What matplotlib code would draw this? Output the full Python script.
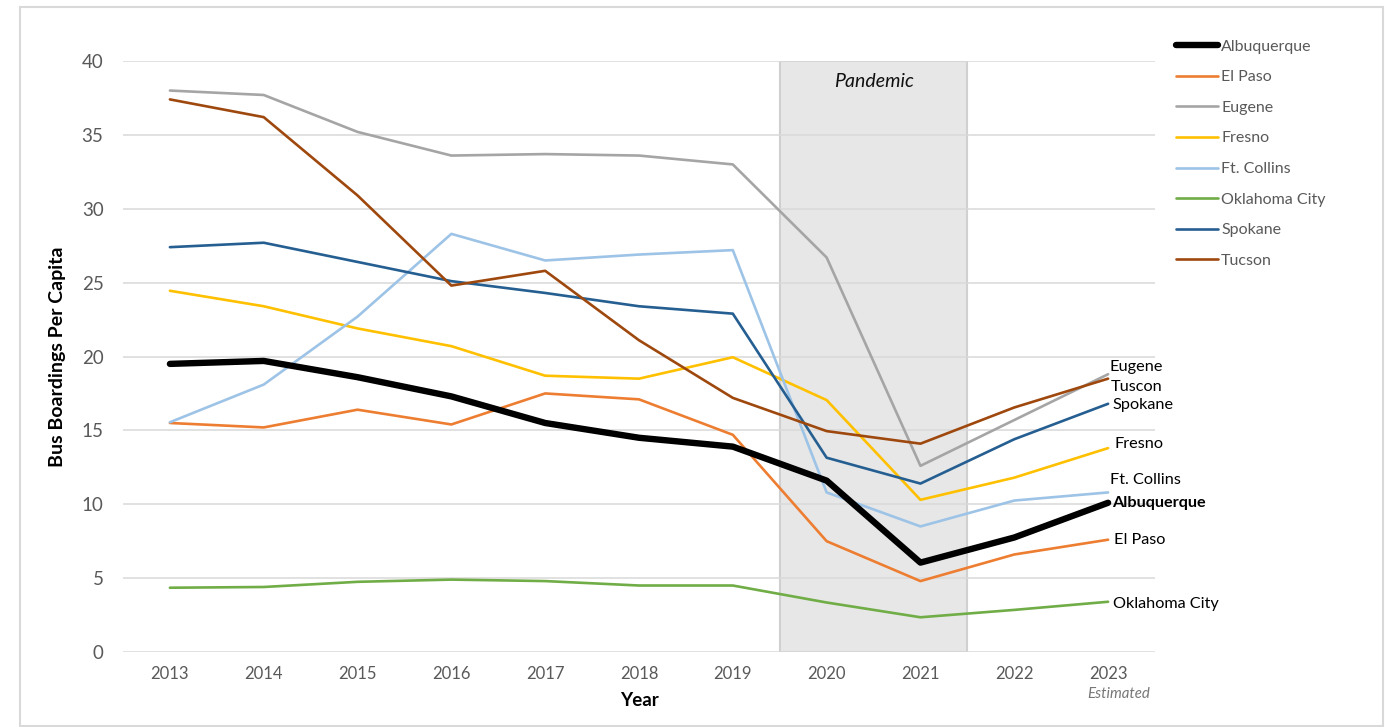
import matplotlib.pyplot as plt
from matplotlib.patches import Rectangle

# Data
years = ["2013", "2014", "2015", "2016", "2017", "2018", "2019", "2020", "2021", "2022", "2023"]

albuquerque = [19.5, 19.7, 18.6, 17.3, 15.5, 14.5, 13.9, 11.6, 6.05, 7.75, 10.1]
el_paso = [15.5, 15.2, 16.4, 15.4, 17.5, 17.1, 14.7, 7.5, 4.8, 6.6, 7.6]
eugene = [38.0, 37.7, 35.2, 33.6, 33.7, 33.6, 33.0, 26.7, 12.6, 15.7, 18.8]
fresno = [24.45, 23.4, 21.9, 20.7, 18.7, 18.5, 19.95, 17.05, 10.3, 11.8, 13.8]
ft_collins = [15.55, 18.1, 22.7, 28.3, 26.5, 26.9, 27.2, 10.8, 8.5, 10.25, 10.8]
oklahoma_city = [4.35, 4.4, 4.75, 4.9, 4.8, 4.5, 4.5, 3.35, 2.35, 2.85, 3.4]
spokane = [27.4, 27.7, 26.4, 25.1, 24.3, 23.4, 22.9, 13.15, 11.4, 14.4, 16.8]
tucson = [37.4, 36.2, 30.9, 24.8, 25.8, 21.1, 17.2, 14.95, 14.1, 16.55, 18.5]

series_names = ["Albuquerque", "El Paso", "Eugene", "Fresno", "Ft. Collins",
                "Oklahoma City", "Spokane", "Tucson"]
series_values = [albuquerque, el_paso, eugene, fresno, ft_collins,
                 oklahoma_city, spokane, tucson]
colors = ["#000000", "#ED7D31", "#A5A5A5", "#FFC000", "#9DC3E6",
          "#70AD47", "#255E91", "#9E480E"]

# End-of-line labels (text, x offset px, y offset px, bold)
end_labels = [("Albuquerque", 4, 0, True), ("El Paso", 6, 0, False),
              ("Eugene", 1, 7, False), ("Fresno", 6, 4, False),
              ("Ft. Collins", 2, 12, False), ("Oklahoma City", 5, -2, False),
              ("Spokane", 4, -1, False), ("Tuscon", 3, -8, False)]

plt.rcParams['font.family'] = ['Lato', 'DejaVu Sans']

fig = plt.figure(figsize=(13.88, 7.27), dpi=100)
ax = fig.add_axes([123/1388, 1-652/727, (1155-123)/1388, (652-61)/727])

x = list(range(len(years)))

# Pandemic shading between 2019 and 2022
ax.axvspan(6.5, 8.5, facecolor="#E7E7E7", edgecolor="#D0D0D0", lw=1.5, zorder=0.2)
ax.text(7.5, 38.6, "Pandemic", ha="center", va="center", style="italic",
        fontsize=14, color="#111111")

for name, vals, col in zip(series_names, series_values, colors):
    lw = 4.6 if name == "Albuquerque" else 1.9
    ax.plot(x, vals, color=col, lw=lw, label=name, solid_capstyle="round",
            solid_joinstyle="round", zorder=3 if name == "Albuquerque" else 2)

# labels at the right end of each line
for (txt, dx, dy, bold), vals in zip(end_labels, series_values):
    ax.annotate(txt, xy=(x[-1], vals[-1]), xytext=(dx * 0.72, dy * 0.72),
                textcoords="offset points", ha="left", va="center",
                fontsize=11.7, color="#000000",
                fontweight="bold" if bold else "normal", annotation_clip=False)

ax.set_xlim(-0.5, len(years) - 0.5)
ax.set_ylim(0, 40)
ax.set_yticks(range(0, 41, 5))
ax.set_xticks(x)
ax.set_xticklabels(years)
ax.tick_params(axis="both", length=0, labelsize=12, labelcolor="#595959")
ax.tick_params(axis="y", pad=14, labelsize=13.5)
ax.tick_params(axis="x", pad=10)
ax.grid(axis="y", color="#D9D9D9", lw=1.1)
ax.set_axisbelow(True)
for s in ax.spines.values():
    s.set_visible(False)

ax.set_xlabel("Year", fontsize=13.5, fontweight="bold", labelpad=7)
ax.set_ylabel("Bus Boardings Per Capita", fontsize=14, fontweight="bold", labelpad=11)

ax.text(x[-1] + 0.11, -2.85, "Estimated", ha="center", va="center", style="italic",
        fontsize=10.8, color="#777777")

leg = ax.legend(loc="upper left", bbox_to_anchor=(1170/1388, 1-33/727),
                bbox_transform=fig.transFigure, frameon=False, fontsize=11.5,
                handlelength=2.6, handletextpad=0.2, labelspacing=1.03,
                borderaxespad=0)
for t in leg.get_texts():
    t.set_color("#595959")

# light outer border
fig.patches.append(Rectangle((20/1388, 0.002), (1383-20)/1388, 1-7/727-0.002,
                             transform=fig.transFigure, fill=False,
                             edgecolor="#D9D9D9", lw=1.5))

fig.savefig("out.png", dpi=100)
